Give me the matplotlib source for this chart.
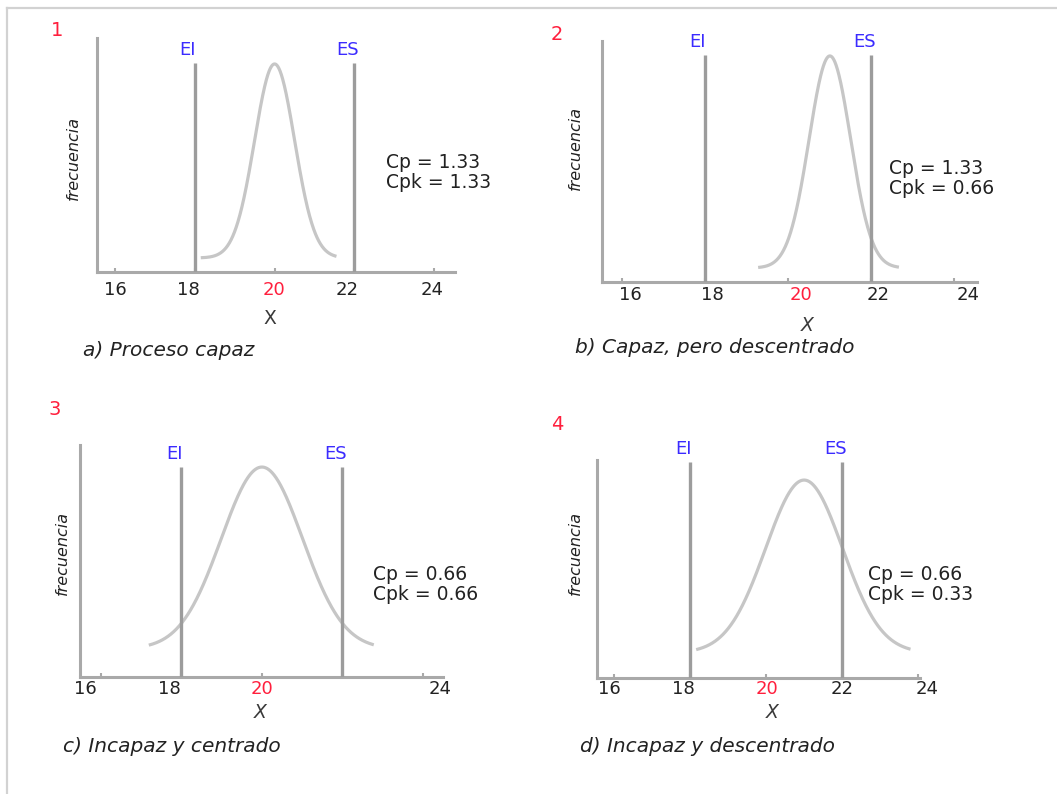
import numpy as np
import matplotlib
matplotlib.use("Agg")
import matplotlib.pyplot as plt
from matplotlib.lines import Line2D
from matplotlib.transforms import ScaledTranslation

# ---- data ---------------------------------------------------------------
panel_ids = ["1", "2", "3", "4"]
captions = ["a) Proceso capaz", "b) Capaz, pero descentrado",
            "c) Incapaz y centrado", "d) Incapaz y descentrado"]
lsl = [18, 18, 18, 18]          # EI
usl = [22, 22, 22, 22]          # ES
cp_values = [1.33, 1.33, 0.66, 0.66]
cpk_values = [1.33, 0.66, 0.66, 0.33]
curve_from = [18.15, 19.28, 17.19, 18.16]
curve_to = [21.55, 22.67, 22.78, 23.80]
tick_values = [[16, 18, 20, 22, 24], [16, 18, 20, 22, 24],
               [16, 18, 20, 24], [16, 18, 20, 22, 24]]
target_value = 20

# ---- layout / style -----------------------------------------------------
W, H = 1057, 794
boxes = [(97, 38, 455, 272), (602, 41, 977, 282),
         (80, 445, 443, 677), (597, 460, 920, 678)]   # left, top, right, bottom (px)
xlims = [(15.55, 24.52), (15.52, 24.55), (15.48, 24.50), (15.55, 24.05)]
spec_top = [0.893, 0.94, 0.905, 0.99]
curve_peak = [0.889, 0.938, 0.905, 0.908]
curve_base = [0.06, 0.058, 0.121, 0.115]
label_dx = [[0, -6, -1, -7, -2], [8, 7, 13, 7, 14],
            [-16, -12, 0, 17], [-5, -7, 1, 0, 9]]
label_dy = [18, 13, 12, 11]
xlabel_pos = [(270, 318), (807, 325), (260, 712), (772, 712)]
xlabel_style = ["normal", "italic", "italic", "italic"]
caption_pos = [(83, 351), (575, 348), (63, 747), (580, 747)]
freq_pos = [(73, 158), (575, 148), (62, 553), (575, 553)]
num_pos = [(57, 30), (557, 35), (55, 410), (557, 425)]
cp_pos = [(386, 153), (889, 159), (373, 565), (868, 565)]

axis_gray = "#a9a9a9"
spec_gray = "#9c9c9c"
curve_gray = "#c6c6c6"
blue = "#3b2bff"
red = "#ff1f3d"
dark = "#222222"

fig = plt.figure(figsize=(W / 100, H / 100), dpi=100)
fig.patch.set_facecolor("white")


def fpos(px, py):
    return px / W, 1 - py / H


def px_offset(dx, dy):
    return ScaledTranslation(dx / 100, dy / 100, fig.dpi_scale_trans)


# thin frame along the top and left edges
fig.add_artist(Line2D([7 / W, 1], [1 - 7.5 / H] * 2, transform=fig.transFigure,
                      color="#d2d2d2", lw=1.6))
fig.add_artist(Line2D([7 / W] * 2, [0, 1 - 7.5 / H], transform=fig.transFigure,
                      color="#d2d2d2", lw=1.6))

for i in range(4):
    l, t, r, b = boxes[i]
    ax = fig.add_axes([l / W, 1 - b / H, (r - l) / W, (b - t) / H])
    ax.set_xlim(*xlims[i])
    ax.set_ylim(0, 1)
    ax.patch.set_alpha(0)
    for s in ("top", "right"):
        ax.spines[s].set_visible(False)
    for s in ("left", "bottom"):
        ax.spines[s].set_color(axis_gray)
        ax.spines[s].set_linewidth(2.2)
    ax.set_yticks([])
    ax.set_xticks(tick_values[i])
    ax.tick_params(axis="x", direction="in", length=3, width=1.5,
                   color=axis_gray, labelbottom=False)

    # normal curve from Cp / Cpk
    sigma = (usl[i] - lsl[i]) / (6 * cp_values[i])
    mu = usl[i] - 3 * sigma * cpk_values[i]
    x = np.linspace(curve_from[i], curve_to[i], 400)
    y = curve_base[i] + (curve_peak[i] - curve_base[i]) * np.exp(-0.5 * ((x - mu) / sigma) ** 2)
    ax.plot(x, y, color=curve_gray, lw=2.3, solid_capstyle="butt", zorder=2)

    # specification limits
    ax.vlines([lsl[i], usl[i]], 0, spec_top[i], color=spec_gray, lw=2.4, zorder=3)
    for v, name in ((lsl[i], "EI"), (usl[i], "ES")):
        ax.text(v, spec_top[i], name, transform=ax.transData + px_offset(-7, 13),
                ha="center", va="center", fontsize=13, color=blue)

    # tick labels
    for v, dx in zip(tick_values[i], label_dx[i]):
        ax.text(v, 0, str(v),
                transform=ax.get_xaxis_transform() + px_offset(dx, -label_dy[i]),
                ha="center", va="center", fontsize=13,
                color=red if v == target_value else dark)

    fig.text(*fpos(*xlabel_pos[i]), "X", ha="center", va="center", fontsize=13.5,
             style=xlabel_style[i], color="#3a3a3a")
    fig.text(*fpos(*caption_pos[i]), captions[i], ha="left", va="center",
             fontsize=14.5, style="italic", color=dark)
    fig.text(*fpos(*freq_pos[i]), "frecuencia", ha="center", va="center",
             fontsize=11.5, style="italic", rotation=90, color=dark)
    fig.text(*fpos(*num_pos[i]), panel_ids[i], ha="center", va="center",
             fontsize=14, color=red)
    fig.text(*fpos(*cp_pos[i]), f"Cp = {cp_values[i]:.2f}\nCpk = {cpk_values[i]:.2f}",
             ha="left", va="top", fontsize=13.5, color=dark, linespacing=1.1)

fig.savefig("out.png", dpi=100, facecolor="white")
